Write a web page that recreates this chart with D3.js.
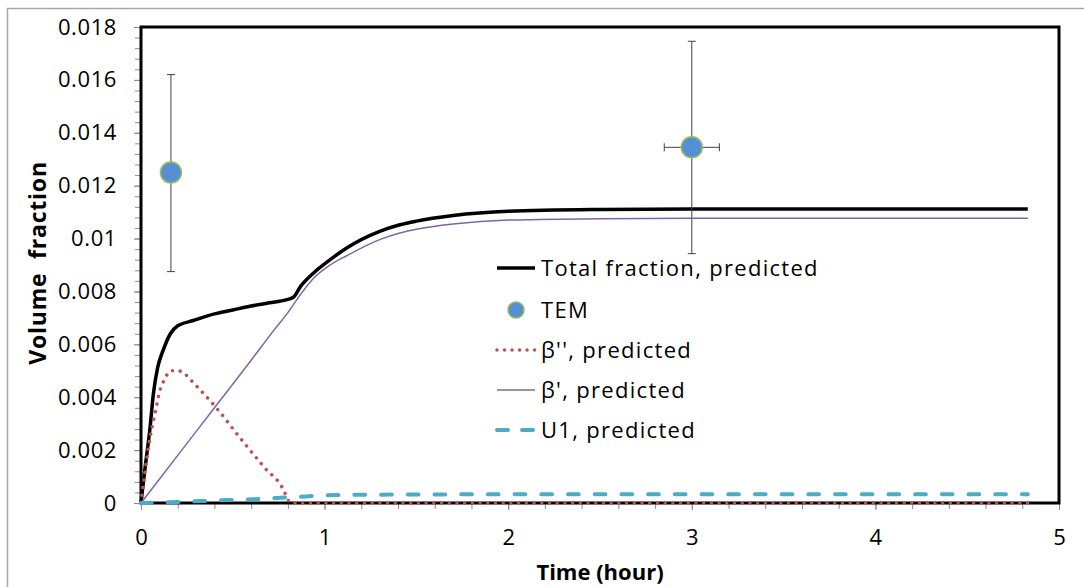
<!DOCTYPE html>
<html>
<head>
<meta charset="utf-8">
<script src="https://cdn.jsdelivr.net/npm/d3@7"></script>
<style>
  body { margin: 0; background: #fff; }
  svg { display: block; font-family: "Open Sans", "Liberation Sans", sans-serif; }
</style>
</head>
<body>
<svg id="chart" width="1084" height="587"></svg>
<script>
// total volume fraction (black)
const totalTime = [0, 0.02, 0.05, 0.067, 0.09, 0.122, 0.16, 0.2, 0.285, 0.4, 0.5, 0.6, 0.7, 0.79, 0.83, 0.87, 0.94, 1.03, 1.12, 1.3, 1.41, 1.5, 1.7, 2.0, 2.5, 3.0, 4.0, 4.83];
const totalValue = [0, 0.0012, 0.0029, 0.0041, 0.0051, 0.0058, 0.0064, 0.0067, 0.0069, 0.00715, 0.0073, 0.00745, 0.00757, 0.00768, 0.00778, 0.0082, 0.0087, 0.0092, 0.00964, 0.01027, 0.01052, 0.01066, 0.01087, 0.01103, 0.0111, 0.01112, 0.01112, 0.01112];

// beta'' (red dotted)
const beta2Time = [0, 0.005, 0.023, 0.05, 0.077, 0.105, 0.12, 0.137, 0.163, 0.2, 0.24, 0.27, 0.41, 0.54, 0.67, 0.78, 0.8, 0.82, 2.0, 3.0, 4.0, 4.83];
const beta2Value = [0, 0.0003, 0.00126, 0.0025, 0.0034, 0.0043, 0.00456, 0.0048, 0.005, 0.005, 0.00488, 0.00466, 0.0036, 0.00246, 0.00136, 0.00044, 0.00012, 0, 0, 0, 0, 0];

// beta' (purple)
const beta1Time = [0, 0.2, 0.4, 0.6, 0.72, 0.8, 0.87, 0.94, 1.03, 1.12, 1.3, 1.41, 1.5, 1.7, 2.0, 2.5, 3.0, 4.0, 4.83];
const beta1Value = [0, 0.0018, 0.0036, 0.0054, 0.0065, 0.0072, 0.0079, 0.0085, 0.009, 0.00935, 0.00996, 0.01021, 0.01035, 0.01055, 0.0107, 0.01075, 0.01077, 0.01077, 0.01077];

// U1 (cyan dashed)
const u1Time = [0, 0.2, 0.467, 0.61, 0.74, 0.9, 1.01, 1.2, 1.5, 2.0, 3.0, 4.0, 4.83];
const u1Value = [0, 0.00004, 0.00011, 0.00014, 0.00019, 0.00025, 0.00029, 0.00031, 0.00032, 0.00033, 0.00033, 0.00033, 0.00033];

// TEM measurements with error bars
const temTime = [0.163, 3.0];
const temValue = [0.0125, 0.01345];
const temLow = [0.00875, 0.00943];
const temHigh = [0.0162, 0.01746];
const temTimeErr = [0, 0.15];

const xTicks = [0, 1, 2, 3, 4, 5];
const yTicks = [0, 0.002, 0.004, 0.006, 0.008, 0.01, 0.012, 0.014, 0.016, 0.018];

const legendLabels = ["Total fraction, predicted", "TEM", "\u03b2'', predicted", "\u03b2', predicted", "U1, predicted"];

const svg = d3.select("#chart");

// outer chart border
svg.append("rect")
  .attr("x", 7.5).attr("y", 8.5)
  .attr("width", 1100).attr("height", 600)
  .attr("fill", "none")
  .attr("stroke", "#a6a6a6")
  .attr("stroke-width", 1.5);

const x = d3.scaleLinear().domain([0, 5]).range([141, 1059]);
const y = d3.scaleLinear().domain([0, 0.018]).range([503, 27]);

// minor ticks
svg.append("g")
  .attr("transform", "translate(141,0)")
  .call(d3.axisLeft(y).tickValues(d3.range(0, 0.01801, 0.0004)).tickSize(6).tickFormat(""))
  .call(g => g.select(".domain").remove())
  .selectAll("line").attr("stroke", "#8c8c8c");

svg.append("g")
  .attr("transform", "translate(0,503)")
  .call(d3.axisBottom(x).tickValues(d3.range(0, 5.001, 0.2)).tickSize(6).tickFormat(""))
  .call(g => g.select(".domain").remove())
  .selectAll("line").attr("stroke", "#8c8c8c");

// major axes with labels
const yAxis = svg.append("g")
  .attr("transform", "translate(141,0)")
  .call(d3.axisLeft(y).tickValues(yTicks).tickSize(7).tickPadding(17)
    .tickFormat(d => String(+d.toFixed(3))));
yAxis.select(".domain").remove();
yAxis.selectAll("line").attr("stroke", "#8c8c8c");
yAxis.selectAll("text").attr("font-size", 22).attr("fill", "#000")
  .attr("letter-spacing", 0.6)
  .attr("font-family", "'Open Sans', sans-serif");

const xAxis = svg.append("g")
  .attr("transform", "translate(0,503)")
  .call(d3.axisBottom(x).tickValues(xTicks).tickSize(7).tickPadding(19)
    .tickFormat(d3.format("d")));
xAxis.select(".domain").remove();
xAxis.selectAll("line").attr("stroke", "#8c8c8c");
xAxis.selectAll("text").attr("font-size", 22).attr("fill", "#000")
  .attr("font-family", "'Open Sans', sans-serif");

// plot frame
svg.append("rect")
  .attr("x", x(0)).attr("y", y(0.018))
  .attr("width", x(5) - x(0)).attr("height", y(0) - y(0.018))
  .attr("fill", "none")
  .attr("stroke", "#000")
  .attr("stroke-width", 3);

function makeLine(times, values) {
  return d3.line()
    .x((d, i) => x(times[i]))
    .y(d => y(d))
    .curve(d3.curveMonotoneX)(values);
}

// Total fraction
svg.append("path")
  .attr("d", makeLine(totalTime, totalValue))
  .attr("fill", "none")
  .attr("stroke", "#000")
  .attr("stroke-width", 3.5);

// TEM points
const tem = svg.append("g");
temTime.forEach((t, i) => {
  const cx = x(t), cy = y(temValue[i]);
  tem.append("line")
    .attr("x1", cx).attr("x2", cx)
    .attr("y1", y(temLow[i])).attr("y2", y(temHigh[i]))
    .attr("stroke", "#404040").attr("stroke-width", 1);
  [temLow[i], temHigh[i]].forEach(v => {
    tem.append("line")
      .attr("x1", cx - 4).attr("x2", cx + 4)
      .attr("y1", y(v)).attr("y2", y(v))
      .attr("stroke", "#404040").attr("stroke-width", 1);
  });
  if (temTimeErr[i] > 0) {
    const xl = x(t - temTimeErr[i]), xr = x(t + temTimeErr[i]);
    tem.append("line")
      .attr("x1", xl).attr("x2", xr)
      .attr("y1", cy).attr("y2", cy)
      .attr("stroke", "#404040").attr("stroke-width", 1);
    [xl, xr].forEach(xx => {
      tem.append("line")
        .attr("x1", xx).attr("x2", xx)
        .attr("y1", cy - 4).attr("y2", cy + 4)
        .attr("stroke", "#404040").attr("stroke-width", 1);
    });
  }
  tem.append("circle")
    .attr("cx", cx).attr("cy", cy).attr("r", 10.5)
    .attr("fill", "#558ed5")
    .attr("stroke", "#9bbb59")
    .attr("stroke-width", 1.5);
});

// beta''
svg.append("path")
  .attr("d", makeLine(beta2Time, beta2Value))
  .attr("fill", "none")
  .attr("stroke", "#c0504d")
  .attr("stroke-width", 3.5)
  .attr("stroke-linecap", "round")
  .attr("stroke-dasharray", "0.01 7.7");

// beta'
svg.append("path")
  .attr("d", makeLine(beta1Time, beta1Value))
  .attr("fill", "none")
  .attr("stroke", "#8064a2")
  .attr("stroke-width", 1.5);

// U1
svg.append("path")
  .attr("d", makeLine(u1Time, u1Value))
  .attr("fill", "none")
  .attr("stroke", "#4bacc6")
  .attr("stroke-width", 4)
  .attr("stroke-linecap", "round")
  .attr("stroke-dasharray", "10.7 16");

// legend
const legendY = [268, 310, 350, 390, 430];
const legend = svg.append("g");
legendLabels.forEach((label, i) => {
  const ly = legendY[i];
  if (i === 1) {
    legend.append("circle")
      .attr("cx", 516).attr("cy", ly).attr("r", 8)
      .attr("fill", "#558ed5").attr("stroke", "#9bbb59").attr("stroke-width", 1.5);
  } else {
    const seg = legend.append("line")
      .attr("x1", 497).attr("x2", 535)
      .attr("y1", ly).attr("y2", ly)
      .attr("fill", "none");
    if (i === 0) seg.attr("stroke", "#000").attr("stroke-width", 3.5);
    if (i === 2) seg.attr("stroke", "#c0504d").attr("stroke-width", 3.5)
      .attr("stroke-linecap", "round").attr("stroke-dasharray", "0.01 7.5");
    if (i === 3) seg.attr("stroke", "#8064a2").attr("stroke-width", 1.5);
    if (i === 4) seg.attr("stroke", "#4bacc6").attr("stroke-width", 4)
      .attr("stroke-linecap", "round").attr("stroke-dasharray", "11 14");
  }
  legend.append("text")
    .attr("x", 541).attr("y", ly)
    .attr("dy", "0.35em")
    .attr("font-size", 22)
    .attr("letter-spacing", 1.3)
    .attr("fill", "#000")
    .text(label);
});

// axis titles
svg.append("text")
  .attr("transform", "translate(46,263) rotate(-90)")
  .attr("text-anchor", "middle")
  .attr("font-size", 23)
  .attr("font-weight", "bold")
  .attr("letter-spacing", 0.8)
  .attr("xml:space", "preserve")
  .style("white-space", "pre")
  .text("Volume  fraction");

svg.append("text")
  .attr("x", 600).attr("y", 580)
  .attr("text-anchor", "middle")
  .attr("font-size", 22)
  .attr("font-weight", "bold")
  .text("Time (hour)");
</script>
</body>
</html>
